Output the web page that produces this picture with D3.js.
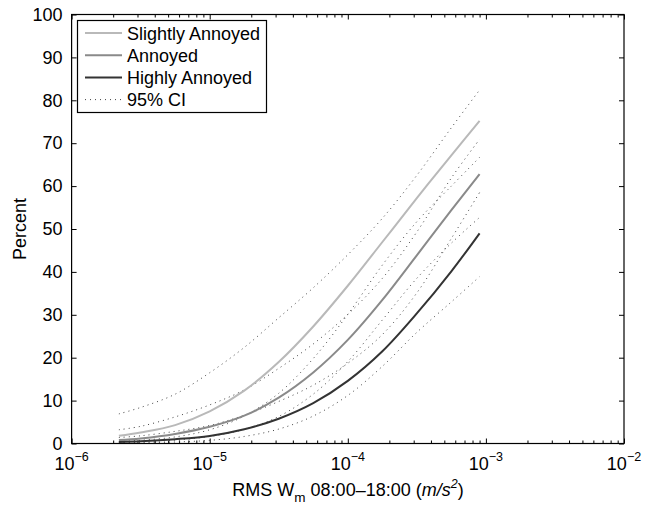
<!DOCTYPE html>
<html><head><meta charset="utf-8">
<script src="https://cdn.jsdelivr.net/npm/d3@7"></script>
<style>body{margin:0;background:#fff}svg{display:block}text{font-family:"Liberation Sans",Arial,Helvetica,sans-serif;fill:#000}</style>
</head><body><svg id="c" width="650" height="506"></svg>
<script>
// RMS W_m values (m/s^2)
const xVals = [2.2e-6, 3.16e-6, 5.62e-6, 1e-5, 1.78e-5, 3.16e-5, 5.62e-5, 1e-4, 1.78e-4, 3.16e-4, 5.62e-4, 9e-4];
// Percent annoyed
const slightly   = [1.8, 2.56, 4.29, 7.5, 12.33, 19.0, 27.28, 36.77, 46.97, 57.18, 67.18, 75.2];
const slightlyLo = [0.45, 0.75, 1.53, 3.2, 6.4, 11.7, 19.8, 30.1, 41.6, 51.7, 60.0, 66.7];
const slightlyHi = [6.9, 8.4, 11.5, 16.5, 22.4, 29.3, 36.3, 44.0, 52.5, 62.5, 73.6, 82.4];
const annoyed    = [0.8, 1.19, 2.23, 3.89, 6.48, 10.7, 16.57, 24.16, 33.48, 43.86, 54.38, 62.8];
const annoyedLo  = [0.2, 0.34, 0.78, 1.63, 3.3, 6.3, 11.5, 19.1, 28.8, 38.5, 46.7, 52.7];
const annoyedHi  = [3.2, 4.0, 6.2, 9.0, 12.5, 17.5, 23.2, 30.1, 38.5, 49.3, 61.9, 70.9];
const highly     = [0.35, 0.52, 1.0, 1.77, 3.32, 5.78, 9.41, 14.59, 21.49, 30.31, 40.14, 49.0];
const highlyLo   = [0.09, 0.15, 0.35, 0.73, 1.64, 3.36, 6.4, 11.2, 18.0, 25.9, 33.0, 38.9];
const highlyHi   = [1.4, 1.79, 2.83, 4.2, 6.6, 9.8, 13.6, 18.7, 25.4, 35.1, 47.8, 58.5];

const seriesNames = ["Slightly Annoyed", "Annoyed", "Highly Annoyed"];
const ciLabel = "95% CI";
const xMajorTicks = [1e-6, 1e-5, 1e-4, 1e-3, 1e-2];
const xExponents = ["\u22126", "\u22125", "\u22124", "\u22123", "\u22122"];
const yTicks = [0, 10, 20, 30, 40, 50, 60, 70, 80, 90, 100];

const colors = ["#b9b9b9", "#8a8a8a", "#333333"];

const svg = d3.select("#c");
const L = 71.6, R = 624, T = 14.5, B = 443.5;
const x = d3.scaleLog().domain([1e-6, 1e-2]).range([L, R]);
const y = d3.scaleLinear().domain([0, 100]).range([B, T]);

const minors = [];
for (let e = -6; e < -2; e++) for (let k = 2; k <= 9; k++) minors.push(k * Math.pow(10, e));

function styleAxis(g) {
  g.select(".domain").remove();
  g.selectAll("line").attr("stroke", "#000").attr("stroke-width", 1);
}
svg.append("g").attr("transform", `translate(0,${B})`)
  .call(d3.axisBottom(x).tickValues(xMajorTicks).tickSize(-5).tickFormat("")).call(styleAxis);
svg.append("g").attr("transform", `translate(0,${B})`)
  .call(d3.axisBottom(x).tickValues(minors).tickSize(-3).tickFormat("")).call(styleAxis);
svg.append("g").attr("transform", `translate(0,${T})`)
  .call(d3.axisTop(x).tickValues(xMajorTicks).tickSize(-5).tickFormat("")).call(styleAxis);
svg.append("g").attr("transform", `translate(0,${T})`)
  .call(d3.axisTop(x).tickValues(minors).tickSize(-3).tickFormat("")).call(styleAxis);
svg.append("g").attr("transform", `translate(${L},0)`)
  .call(d3.axisLeft(y).tickValues(yTicks).tickSize(-5).tickPadding(9)).call(styleAxis)
  .selectAll("text").style("font-size", "18px").attr("fill", "#000");
svg.append("g").attr("transform", `translate(${R},0)`)
  .call(d3.axisRight(y).tickValues(yTicks).tickSize(-5).tickFormat("")).call(styleAxis);

// x tick labels 10^n
xMajorTicks.forEach((v, i) => {
  const t = svg.append("text").attr("x", x(v)).attr("y", 470).attr("text-anchor", "middle");
  t.append("tspan").style("font-size", "18px").text("10");
  t.append("tspan").style("font-size", "12.5px").attr("dy", -9).text(xExponents[i]);
});

// curves
const line = (arr) => d3.line().x((d, i) => x(xVals[i])).y(d => y(d)).curve(d3.curveCatmullRom.alpha(0.5))(arr);
const ciSets = [slightlyLo, slightlyHi, annoyedLo, annoyedHi, highlyLo, highlyHi];
ciSets.forEach(arr => {
  svg.append("path").attr("d", line(arr)).attr("fill", "none")
    .attr("stroke", "#444").attr("stroke-width", 1).attr("stroke-dasharray", "1,4");
});
[slightly, annoyed, highly].forEach((arr, k) => {
  svg.append("path").attr("d", line(arr)).attr("fill", "none")
    .attr("stroke", colors[k]).attr("stroke-width", 2);
});

// box
svg.append("rect").attr("x", L).attr("y", T).attr("width", R - L).attr("height", B - T)
  .attr("fill", "none").attr("stroke", "#000").attr("stroke-width", 1.2);

// legend
const lg = svg.append("g");
lg.append("rect").attr("x", 77.5).attr("y", 20.5).attr("width", 189).attr("height", 92)
  .attr("fill", "#fff").attr("stroke", "#000").attr("stroke-width", 1.2);
const items = seriesNames.concat([ciLabel]);
items.forEach((name, i) => {
  const cy = 33 + i * 22.2;
  const ln = lg.append("line").attr("x1", 85).attr("x2", 122).attr("y1", cy).attr("y2", cy);
  if (i < 3) ln.attr("stroke", colors[i]).attr("stroke-width", 2);
  else ln.attr("stroke", "#444").attr("stroke-width", 1).attr("stroke-dasharray", "1,4");
  lg.append("text").attr("x", 127).attr("y", cy + 6.5).style("font-size", "18px").text(name);
});

// axis labels
const xl = svg.append("text").attr("x", 348).attr("y", 496).attr("text-anchor", "middle").style("font-size", "18px");
xl.append("tspan").text("RMS W");
xl.append("tspan").attr("dy", 6).style("font-size", "13.5px").text("m");
xl.append("tspan").attr("dy", -6).text(" 08:00\u201318:00 (");
xl.append("tspan").style("font-style", "italic").text("m/s");
xl.append("tspan").attr("dy", -8).style("font-size", "12.5px").style("font-style", "italic").text("2");
xl.append("tspan").attr("dy", 8).text(")");

svg.append("text").attr("transform", "translate(26,229) rotate(-90)").attr("text-anchor", "middle")
  .style("font-size", "18px").text("Percent");
</script></body></html>
